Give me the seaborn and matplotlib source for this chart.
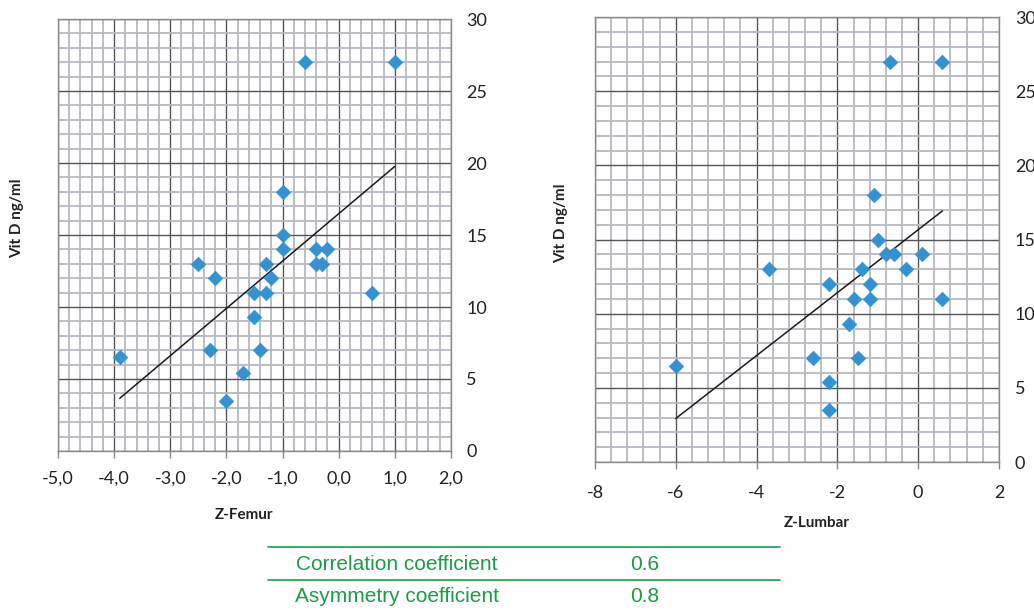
import numpy as np
import pandas as pd
import seaborn as sns
import matplotlib.pyplot as plt
from matplotlib.lines import Line2D
from matplotlib.ticker import MultipleLocator, FuncFormatter

# values
vit_d_femur = [27, 27, 18, 15, 14, 14, 14, 13, 13, 13, 13, 12, 12, 11, 11, 11, 9.3, 6.5, 7, 7, 5.4, 3.5]
z_femur = [-0.6, 1.0, -1.0, -1.0, -1.0, -0.4, -0.2, -2.5, -1.3, -0.4, -0.3, -2.2, -1.2, -1.5, -1.3, 0.6,
           -1.5, -3.9, -2.3, -1.4, -1.7, -2.0]

vit_d_lumbar = [27, 27, 18, 15, 14, 14, 14, 13, 13, 13, 12, 12, 11, 11, 11, 9.3, 6.5, 7, 7, 5.4, 3.5]
z_lumbar = [-0.7, 0.6, -1.1, -1.0, -0.8, -0.6, 0.1, -3.7, -1.4, -0.3, -2.2, -1.2, -1.6, -1.2, 0.6,
            -1.7, -6.0, -2.6, -1.5, -2.2, -2.2]

table_labels = ["Correlation coefficient", "Asymmetry coefficient"]
table_values = ["0.6", "0.8"]

femur = pd.DataFrame({"Z-Femur": z_femur, "Vit D": vit_d_femur})
lumbar = pd.DataFrame({"Z-Lumbar": z_lumbar, "Vit D": vit_d_lumbar})

sns.set_style("white")
plt.rcParams["font.family"] = ["Lato", "DejaVu Sans"]

blue = "#3492d2"
green = "#1a9c48"
minor_col = "#b8b8c0"
major_col = "#555555"

fig = plt.figure(figsize=(10.34, 6.10), dpi=100)
ax1 = fig.add_axes([0.0561, 0.2607, 0.380, 0.708])
ax2 = fig.add_axes([0.5754, 0.2426, 0.3907, 0.7295])


def style_axis(ax, xlim, xmajor, xminor, xfmt, xpad, ypad):
    ax.set_xlim(*xlim)
    ax.set_ylim(0, 30)
    ax.xaxis.set_major_locator(MultipleLocator(xmajor))
    ax.xaxis.set_minor_locator(MultipleLocator(xminor))
    ax.yaxis.set_major_locator(MultipleLocator(5))
    ax.yaxis.set_minor_locator(MultipleLocator(1))
    ax.xaxis.set_major_formatter(FuncFormatter(xfmt))
    ax.grid(which="minor", color=minor_col, lw=1.3)
    ax.grid(which="major", color=major_col, lw=1.0)
    ax.set_axisbelow(True)
    ax.yaxis.tick_right()
    ax.yaxis.set_label_position("left")
    ax.tick_params(axis="y", which="both", length=0, pad=ypad, labelsize=13, colors="#222222")
    ax.tick_params(axis="x", which="major", length=5, width=1, color="#888888", direction="out",
                   pad=xpad, labelsize=13, labelcolor="#222222", bottom=True)
    ax.tick_params(axis="x", which="minor", length=0)
    for sp in ax.spines.values():
        sp.set_color("#8a8a8a")
        sp.set_linewidth(1.0)


def draw(ax, df, xcol):
    sns.regplot(data=df, x=xcol, y="Vit D", ax=ax, scatter=False, ci=None,
                line_kws={"color": "#1a1a1a", "lw": 1.1, "zorder": 3})
    sns.scatterplot(data=df, x=xcol, y="Vit D", ax=ax, marker="D", s=55, color=blue,
                    edgecolor=blue, linewidth=0.5, zorder=4)


draw(ax1, femur, "Z-Femur")
style_axis(ax1, (-5, 2), 1, 0.2, lambda v, p: f"{v:.1f}".replace(".", ","), 9.5, 11)
ax1.set_xlabel("Z-Femur", fontsize=11, fontweight="bold", color="#222222")
ax1.set_ylabel("Vit D ng/ml", fontsize=11, fontweight="bold", color="#222222")
ax1.xaxis.set_label_coords(0.473, -0.132)
ax1.yaxis.set_label_coords(-0.0865, 0.54)

draw(ax2, lumbar, "Z-Lumbar")
style_axis(ax2, (-8, 2), 2, 0.4, lambda v, p: f"{v:.0f}", 11.5, 11.5)
ax2.set_xlabel("Z-Lumbar", fontsize=11, fontweight="bold", color="#222222")
ax2.set_ylabel("Vit D ng/ml", fontsize=11, fontweight="bold", color="#222222")
ax2.xaxis.set_label_coords(0.55, -0.121)
ax2.yaxis.set_label_coords(-0.067, 0.537)

# small results table under the charts
narrow = ["Liberation Sans Narrow", "Liberation Sans", "DejaVu Sans"]
for yl in [547, 580]:
    fig.add_artist(Line2D([268 / 1034, 780 / 1034], [1 - yl / 610, 1 - yl / 610],
                          color=green, lw=1.2, transform=fig.transFigure))
for i, (lab, val) in enumerate(zip(table_labels, table_values)):
    yy = 1 - (565 + 32 * i) / 610
    fig.text(397 / 1034, yy, lab, ha="center", va="center", fontsize=15, color=green, family=narrow)
    fig.text(645 / 1034, yy, val, ha="center", va="center", fontsize=15, color=green, family=narrow)

fig.savefig("out.png", dpi=100)
